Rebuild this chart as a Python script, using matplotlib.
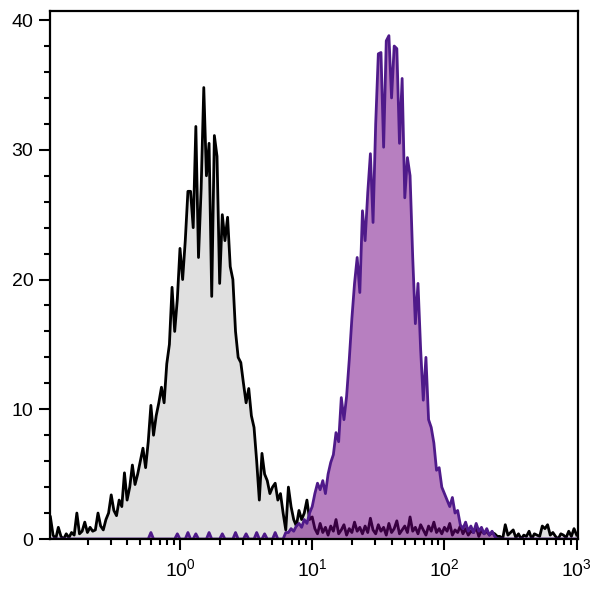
import numpy as np
import matplotlib
matplotlib.use("Agg")
import matplotlib.pyplot as plt
from matplotlib.ticker import LogLocator, MultipleLocator, LogFormatterSciNotation

plt.rcParams['font.family'] = ['Liberation Sans', 'DejaVu Sans']

# histogram channels: log10 bin centres start / step
log_start = -0.98
log_step = 0.02

# isotype control (grey) counts per channel
control_counts = [
    1.7, 0.3, 0.0, 0.9, 0.2, 0.0, 0.4, 0.1, 0.5, 0.3,
    2.0, 0.4, 0.6, 1.3, 0.5, 0.9, 0.6, 0.7, 2.0, 1.0,
    0.7, 1.5, 2.0, 3.4, 2.2, 1.8, 3.0, 2.5, 5.1, 3.0,
    4.0, 5.7, 4.2, 5.0, 6.0, 7.0, 5.5, 7.5, 10.3, 8.0,
    9.5, 10.5, 11.7, 10.5, 13.5, 15.0, 19.4, 16.0, 18.5, 22.4,
    20.0, 23.0, 26.8, 26.8, 24.0, 31.8, 21.7, 27.0, 34.8, 28.0,
    30.5, 18.7, 31.1, 29.5, 19.7, 25.0, 23.0, 24.8, 21.0, 20.0,
    16.0, 14.0, 13.6, 12.0, 10.5, 11.6, 9.5, 8.6, 6.0, 3.0,
    6.6, 5.0, 4.5, 3.5, 4.0, 4.3, 3.0, 3.5, 2.0, 0.7,
    4.0, 2.5, 1.5, 1.0, 2.2, 1.5, 2.0, 3.0, 1.5, 1.7,
    0.8, 0.4, 1.2, 0.5, 0.9, 0.3, 1.0, 0.6, 1.5, 0.4,
    0.7, 1.1, 0.3, 0.8, 0.5, 1.3, 0.6, 0.9, 0.4, 1.0,
    0.5, 1.6, 0.7, 0.4, 1.1, 0.6, 0.9, 0.3, 1.2, 0.5,
    0.8, 1.4, 0.4, 0.7, 1.0, 0.5, 1.7, 0.6, 0.9, 0.4,
    1.1, 0.7, 0.3, 1.0, 0.6, 1.3, 0.5, 0.8, 0.4, 0.9,
    0.6, 1.2, 0.3, 0.7, 0.5, 1.0, 0.4, 0.8, 0.3, 0.6,
    0.5, 0.9, 0.2, 0.7, 0.4, 0.6, 0.3, 0.5, 0.4, 0.2,
    0.2, 0.0, 1.1, 0.3, 0.5, 0.7, 0.1, 0.4, 0.0, 0.3,
    0.2, 0.6, 0.0, 0.4, 0.3, 0.2, 1.0, 0.8, 1.1, 0.3,
    0.5, 0.2, 0.0, 0.4, 0.3, 0.1, 0.6, 0.2, 0.8, 0.3,
]

# stained sample (purple) counts per channel
stained_counts = [0.0] * 38 + [
    0.5, 0.0, 0.0, 0.0, 0.0, 0.0, 0.0, 0.0, 0.0, 0.0,
    0.4, 0.0, 0.0, 0.0, 0.5, 0.0, 0.0, 0.4, 0.0, 0.0,
    0.0, 0.0, 0.5, 0.0, 0.0, 0.0, 0.0, 0.4, 0.0, 0.0,
    0.0, 0.0, 0.5, 0.0, 0.0, 0.0, 0.4, 0.0, 0.0, 0.0,
    0.5, 0.0, 0.0, 0.4, 0.0, 0.0, 0.0, 0.5, 0.0, 0.0,
    0.0, 0.5,
    0.5, 0.8, 0.6, 1.0, 1.2, 0.9, 1.5, 1.2, 2.0, 2.5,
    3.5, 4.3, 3.8, 4.5, 3.5, 5.0, 5.9, 6.5, 8.2, 7.5,
    10.9, 9.2, 11.0, 13.8, 17.0, 19.7, 21.7, 19.0, 25.3, 23.0,
    26.7, 29.7, 24.4, 32.0, 37.4, 37.5, 30.2, 38.4, 38.8, 34.0,
    38.0, 37.8, 30.5, 35.5, 26.3, 29.4, 28.0, 21.7, 16.6, 19.7,
    14.6, 10.7, 14.0, 9.2, 8.6, 7.4, 5.3, 5.5, 4.0, 3.5,
    3.0, 2.5, 3.2, 2.0, 2.2, 1.1, 0.8, 1.3, 0.6, 1.0,
    0.5, 1.2, 0.6, 0.9, 0.4, 0.8, 0.3, 0.6, 0.2, 0.0,
]
stained_counts = stained_counts + [0.0] * (len(control_counts) - len(stained_counts))

y_ticks = [0, 10, 20, 30, 40]

centres = 10 ** (log_start + log_step * np.arange(len(control_counts)))

fig = plt.figure(figsize=(6.0, 5.91), dpi=100)
ax = fig.add_axes([50 / 600, 52 / 591, 528 / 600, 528 / 591])

ax.fill_between(centres, control_counts, 0, color='#e0e0e0', lw=0, zorder=1)
ax.plot(centres, control_counts, color='black', lw=2.0, zorder=2)
ax.fill_between(centres, stained_counts, 0, color='#700082', alpha=0.5, lw=0, zorder=3)
ax.plot(centres, stained_counts, color='#4f1a8a', lw=2.0, zorder=4)

ax.set_xscale('log')
ax.set_xlim(10 ** -0.983, 10 ** 3.01)
ax.set_ylim(0, 40.7)

ax.xaxis.set_major_locator(LogLocator(base=10, numticks=10))
ax.xaxis.set_minor_locator(LogLocator(base=10, subs=np.arange(2, 10), numticks=20))
ax.xaxis.set_major_formatter(LogFormatterSciNotation())
ax.set_yticks(y_ticks)
ax.yaxis.set_minor_locator(MultipleLocator(2))

for s in ax.spines.values():
    s.set_linewidth(1.6)
    s.set_zorder(5)
ax.tick_params(which='major', direction='out', length=8, width=1.5, labelsize=14, pad=4)
ax.tick_params(which='minor', direction='out', length=4, width=1.5)
ax.tick_params(axis='x', which='major', pad=6)

fig.savefig('out.png', dpi=100)
